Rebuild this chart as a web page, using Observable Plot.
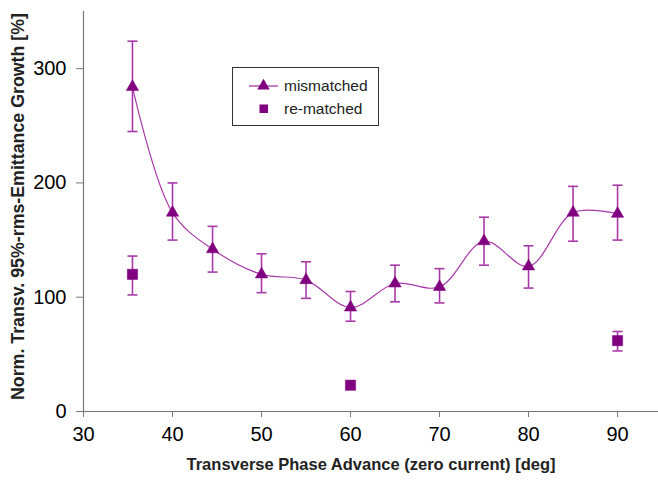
<!DOCTYPE html>
<html>
<head>
<meta charset="utf-8">
<script src="https://cdn.jsdelivr.net/npm/d3@7"></script>
<script src="https://cdn.jsdelivr.net/npm/@observablehq/plot@0.6"></script>
<style>
  html, body { margin: 0; padding: 0; background: #fff; }
  #wrap { position: relative; width: 658px; height: 481px; font-family: "Liberation Sans", Arial, sans-serif; }
  #legend { position: absolute; left: 232px; top: 67px; overflow: visible; }
</style>
</head>
<body>
<div id="wrap"></div>
<script>
// ---- data ----
const phaseMis = [35.5, 40, 44.5, 50, 55, 60, 65, 70, 75, 80, 85, 90];
const growthMis = [284, 174, 142, 120, 115, 91, 112, 109, 149, 127, 174, 173];
const growthMisHi = [324, 200, 162, 138, 131, 105, 128, 125, 170, 145, 197, 198];
const growthMisLo = [245, 150, 122, 104, 99, 79, 96, 95, 128, 108, 149, 150];

const phaseRe = [35.5, 60, 90];
const growthRe = [120, 23, 62];
const growthReHi = [136, 23, 70];
const growthReLo = [102, 23, 53];

const xTicks = [30, 40, 50, 60, 70, 80, 90];
const yTicks = [0, 100, 200, 300];

const seriesNames = ["mismatched", "re-matched"];
const xTitle = "Transverse Phase Advance (zero current) [deg]";
const yTitle = "Norm. Transv. 95%-rms-Emittance Growth [%]";

// ---- tables ----
const mis = phaseMis.map((x, i) => ({x, y: growthMis[i], hi: growthMisHi[i], lo: growthMisLo[i]}));
const re = phaseRe.map((x, i) => ({x, y: growthRe[i], hi: growthReHi[i], lo: growthReLo[i]}));
const errs = mis.concat(re).filter(d => d.hi !== d.lo);

const markColor = "#800080";
const lineColor = "#a83aa8";

// horizontal cap symbol for error bars
const hcap = { draw(ctx, size) { const w = Math.sqrt(size / Math.PI); ctx.moveTo(-w, 0); ctx.lineTo(w, 0); } };

const chart = Plot.plot({
  width: 658,
  height: 481,
  marginLeft: 83,
  marginRight: 0,
  marginTop: 11,
  marginBottom: 70,
  style: { fontFamily: "Liberation Sans, Arial, sans-serif", background: "#fff", color: "#000" },
  x: { domain: [30, 94.6], label: null },
  y: { domain: [0, 350], label: null },
  marks: [
    Plot.axisX({ ticks: xTicks, tickSize: 6, tickPadding: 9, fontSize: 20, stroke: "#777", color: "#000", label: null, tickFormat: d => d }),
    Plot.axisY({ ticks: yTicks, tickSize: 7, tickPadding: 10, fontSize: 20, stroke: "#777", label: null, tickFormat: d => d }),
    Plot.ruleY([0], { stroke: "#777", strokeWidth: 1.2 }),
    Plot.ruleX([30], { stroke: "#777", strokeWidth: 1.2 }),
    Plot.ruleX(errs, { x: "x", y1: "lo", y2: "hi", stroke: lineColor, strokeWidth: 1.6 }),
    Plot.dot(errs, { x: "x", y: "hi", symbol: hcap, r: 5, stroke: lineColor, strokeWidth: 1.6, fill: "none" }),
    Plot.dot(errs, { x: "x", y: "lo", symbol: hcap, r: 5, stroke: lineColor, strokeWidth: 1.6, fill: "none" }),
    Plot.line(mis, { x: "x", y: "y", curve: "catmull-rom", stroke: lineColor, strokeWidth: 1.2 }),
    Plot.dot(mis, { x: "x", y: "y", symbol: "triangle", r: 4.6, fill: markColor, stroke: markColor, strokeWidth: 0.5 }),
    Plot.dot(re, { x: "x", y: "y", symbol: "square", r: 5.8, fill: markColor, stroke: markColor, strokeWidth: 0.5 }),
    Plot.text([xTitle], { frameAnchor: "bottom", dy: 58, fontSize: 16.5, fontWeight: "bold", fill: "#222" }),
    Plot.text([yTitle], { frameAnchor: "left", textAnchor: "middle", rotate: -90, dx: -65, dy: -5, fontSize: 17.8, fontWeight: "bold", fill: "#222" })
  ]
});
document.getElementById("wrap").appendChild(chart);

// ---- legend ----
const ns = "http://www.w3.org/2000/svg";
const leg = document.createElementNS(ns, "svg");
leg.setAttribute("id", "legend");
leg.setAttribute("width", 148);
leg.setAttribute("height", 60);
const box = document.createElementNS(ns, "rect");
box.setAttribute("x", 0.5); box.setAttribute("y", 0.5);
box.setAttribute("width", 146); box.setAttribute("height", 58);
box.setAttribute("fill", "#fff"); box.setAttribute("stroke", "#333"); box.setAttribute("stroke-width", 1);
leg.appendChild(box);
const ln = document.createElementNS(ns, "line");
ln.setAttribute("x1", 17); ln.setAttribute("x2", 46); ln.setAttribute("y1", 19); ln.setAttribute("y2", 19);
ln.setAttribute("stroke", lineColor); ln.setAttribute("stroke-width", 1.3);
leg.appendChild(ln);
const tri = document.createElementNS(ns, "path");
tri.setAttribute("d", d3.symbol(d3.symbolTriangle, Math.PI * 4.6 * 4.6)());
tri.setAttribute("transform", "translate(31.5,19)");
tri.setAttribute("fill", markColor);
leg.appendChild(tri);
const sq = document.createElementNS(ns, "rect");
sq.setAttribute("x", 27.5); sq.setAttribute("y", 37.5); sq.setAttribute("width", 8.5); sq.setAttribute("height", 8.5);
sq.setAttribute("fill", markColor);
leg.appendChild(sq);
seriesNames.forEach((name, i) => {
  const t = document.createElementNS(ns, "text");
  t.setAttribute("x", 52); t.setAttribute("y", 19 + i * 23);
  t.setAttribute("dy", "0.35em");
  t.setAttribute("font-size", 15.5);
  t.setAttribute("font-family", "Liberation Sans, Arial, sans-serif");
  t.setAttribute("fill", "#222");
  t.textContent = name;
  leg.appendChild(t);
});
document.getElementById("wrap").appendChild(leg);
</script>
</body>
</html>
